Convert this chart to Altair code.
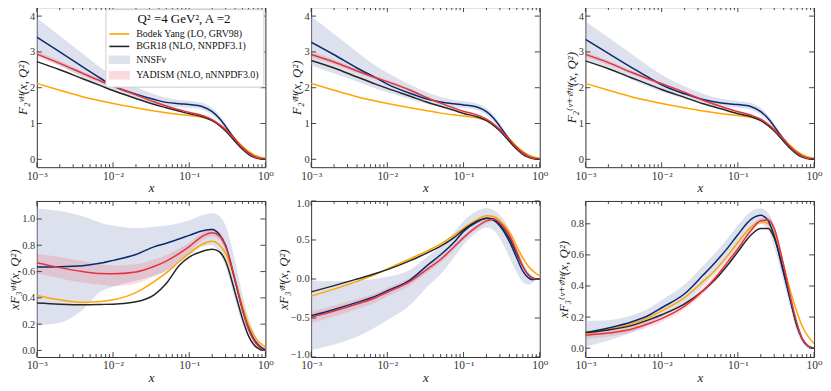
import altair as alt
import pandas as pd

FONT = "Liberation Serif, DejaVu Serif, serif"
ORANGE = "#ffa500"
BLACK = "#262626"
NAVY = "#0b2a6e"
RED = "#e2343f"
NN_BAND = "#b3bdd6"
YD_BAND = "#e8394a"
NN_SWATCH = "#dde3ed"
YD_SWATCH = "#fadadd"

X = [0.001, 0.002, 0.004, 0.007, 0.01, 0.02, 0.035, 0.05, 0.075, 0.1, 0.15,
     0.2, 0.25, 0.3, 0.4, 0.5, 0.6, 0.7, 0.8, 0.9, 1.0]

# ---- F2 nu ----
F2NU_BY = [2.12, 1.93, 1.75, 1.63, 1.56, 1.44, 1.35, 1.30, 1.25, 1.22, 1.17, 1.09, 0.97, 0.84, 0.57, 0.36, 0.22, 0.13, 0.08, 0.05, 0.03]
F2NU_BGR = [2.73, 2.50, 2.25, 2.05, 1.92, 1.70, 1.53, 1.44, 1.34, 1.27, 1.19, 1.08, 0.94, 0.79, 0.50, 0.28, 0.14, 0.06, 0.02, 0.005, 0.0]
F2NU_NN = [3.41, 3.00, 2.58, 2.25, 2.05, 1.82, 1.67, 1.59, 1.55, 1.53, 1.47, 1.33, 1.14, 0.92, 0.55, 0.32, 0.18, 0.09, 0.04, 0.015, 0.005]
F2NU_NN_LO = [2.92, 2.62, 2.28, 2.03, 1.90, 1.70, 1.55, 1.49, 1.46, 1.44, 1.38, 1.24, 1.05, 0.84, 0.48, 0.27, 0.14, 0.06, 0.02, 0.0, -0.01]
F2NU_NN_HI = [3.95, 3.45, 2.95, 2.55, 2.32, 2.02, 1.82, 1.72, 1.65, 1.63, 1.57, 1.43, 1.23, 1.00, 0.62, 0.37, 0.22, 0.12, 0.06, 0.03, 0.02]
F2NU_YD = [2.94, 2.68, 2.40, 2.18, 2.05, 1.80, 1.60, 1.49, 1.38, 1.31, 1.22, 1.11, 0.97, 0.83, 0.55, 0.32, 0.17, 0.08, 0.035, 0.012, 0.003]
F2NU_YD_LO = [2.86, 2.61, 2.34, 2.13, 2.00, 1.76, 1.57, 1.46, 1.35, 1.28, 1.19, 1.08, 0.94, 0.80, 0.53, 0.30, 0.16, 0.07, 0.03, 0.008, 0.0]
F2NU_YD_HI = [3.02, 2.75, 2.46, 2.23, 2.10, 1.84, 1.63, 1.52, 1.41, 1.34, 1.25, 1.14, 1.00, 0.86, 0.57, 0.34, 0.18, 0.09, 0.04, 0.016, 0.006]

# ---- F2 nubar ----
F2NB_BY = [2.12, 1.93, 1.75, 1.63, 1.56, 1.44, 1.35, 1.29, 1.24, 1.21, 1.16, 1.08, 0.97, 0.84, 0.57, 0.36, 0.22, 0.13, 0.08, 0.05, 0.03]
F2NB_BGR = [2.76, 2.55, 2.30, 2.10, 1.98, 1.76, 1.58, 1.48, 1.37, 1.28, 1.19, 1.08, 0.94, 0.79, 0.50, 0.28, 0.14, 0.06, 0.02, 0.005, 0.0]
F2NB_NN = [3.27, 2.92, 2.55, 2.28, 2.10, 1.84, 1.67, 1.60, 1.55, 1.52, 1.46, 1.33, 1.14, 0.92, 0.55, 0.32, 0.18, 0.09, 0.04, 0.015, 0.005]
F2NB_NN_LO = [2.62, 2.40, 2.17, 1.98, 1.87, 1.68, 1.54, 1.48, 1.45, 1.43, 1.37, 1.24, 1.05, 0.84, 0.48, 0.27, 0.14, 0.06, 0.02, 0.0, -0.01]
F2NB_NN_HI = [4.00, 3.50, 3.00, 2.62, 2.42, 2.08, 1.85, 1.74, 1.66, 1.62, 1.56, 1.43, 1.23, 1.00, 0.62, 0.37, 0.22, 0.12, 0.06, 0.03, 0.02]
F2NB_YD = [2.93, 2.72, 2.47, 2.28, 2.17, 1.93, 1.70, 1.57, 1.43, 1.34, 1.24, 1.12, 0.98, 0.83, 0.55, 0.32, 0.17, 0.08, 0.035, 0.012, 0.003]
F2NB_YD_LO = [2.85, 2.65, 2.41, 2.23, 2.12, 1.89, 1.67, 1.54, 1.40, 1.31, 1.21, 1.09, 0.95, 0.80, 0.53, 0.30, 0.16, 0.07, 0.03, 0.008, 0.0]
F2NB_YD_HI = [3.01, 2.79, 2.53, 2.33, 2.22, 1.97, 1.73, 1.60, 1.46, 1.37, 1.27, 1.15, 1.01, 0.86, 0.57, 0.34, 0.18, 0.09, 0.04, 0.016, 0.006]

# ---- F2 nu + nubar ----
F2S_BY = [2.12, 1.93, 1.75, 1.63, 1.56, 1.44, 1.35, 1.30, 1.25, 1.22, 1.17, 1.09, 0.97, 0.84, 0.57, 0.36, 0.22, 0.13, 0.08, 0.05, 0.03]
F2S_BGR = [2.75, 2.53, 2.28, 2.08, 1.95, 1.73, 1.55, 1.46, 1.35, 1.27, 1.19, 1.08, 0.94, 0.79, 0.50, 0.28, 0.14, 0.06, 0.02, 0.005, 0.0]
F2S_NN = [3.35, 2.96, 2.57, 2.27, 2.08, 1.83, 1.67, 1.60, 1.55, 1.53, 1.47, 1.33, 1.14, 0.92, 0.55, 0.32, 0.18, 0.09, 0.04, 0.015, 0.005]
F2S_NN_LO = [2.78, 2.52, 2.23, 2.01, 1.89, 1.69, 1.55, 1.49, 1.46, 1.44, 1.38, 1.24, 1.05, 0.84, 0.48, 0.27, 0.14, 0.06, 0.02, 0.0, -0.01]
F2S_NN_HI = [3.85, 3.40, 2.95, 2.58, 2.36, 2.04, 1.83, 1.73, 1.66, 1.63, 1.57, 1.43, 1.23, 1.00, 0.62, 0.37, 0.22, 0.12, 0.06, 0.03, 0.02]
F2S_YD = [2.93, 2.70, 2.43, 2.23, 2.11, 1.87, 1.65, 1.53, 1.41, 1.33, 1.23, 1.12, 0.98, 0.83, 0.55, 0.32, 0.17, 0.08, 0.035, 0.012, 0.003]
F2S_YD_LO = [2.86, 2.64, 2.38, 2.18, 2.07, 1.84, 1.62, 1.50, 1.38, 1.30, 1.20, 1.09, 0.95, 0.80, 0.53, 0.30, 0.16, 0.07, 0.03, 0.008, 0.0]
F2S_YD_HI = [3.00, 2.76, 2.48, 2.28, 2.15, 1.90, 1.68, 1.56, 1.44, 1.36, 1.26, 1.15, 1.01, 0.86, 0.57, 0.34, 0.18, 0.09, 0.04, 0.016, 0.006]

# ---- xF3 nu ----
XF3NU_BY = [0.418, 0.385, 0.366, 0.372, 0.385, 0.44, 0.525, 0.59, 0.68, 0.74, 0.81, 0.83, 0.80, 0.74, 0.53, 0.34, 0.20, 0.12, 0.07, 0.045, 0.025]
XF3NU_BGR = [0.36, 0.352, 0.348, 0.35, 0.352, 0.37, 0.425, 0.51, 0.65, 0.71, 0.755, 0.77, 0.75, 0.68, 0.44, 0.24, 0.11, 0.045, 0.015, 0.005, 0.0]
XF3NU_NN = [0.635, 0.637, 0.645, 0.665, 0.685, 0.73, 0.79, 0.815, 0.85, 0.875, 0.91, 0.92, 0.88, 0.80, 0.53, 0.31, 0.17, 0.09, 0.045, 0.02, 0.005]
XF3NU_NN_LO = [0.19, 0.21, 0.31, 0.45, 0.485, 0.53, 0.57, 0.60, 0.67, 0.72, 0.79, 0.80, 0.74, 0.64, 0.38, 0.20, 0.10, 0.04, 0.01, 0.0, -0.005]
XF3NU_NN_HI = [1.08, 1.06, 1.02, 0.97, 0.95, 0.93, 0.94, 0.95, 0.97, 0.99, 1.03, 1.045, 1.02, 0.95, 0.68, 0.42, 0.25, 0.14, 0.07, 0.035, 0.015]
XF3NU_YD = [0.667, 0.63, 0.60, 0.585, 0.583, 0.597, 0.64, 0.68, 0.74, 0.79, 0.87, 0.895, 0.87, 0.79, 0.54, 0.31, 0.16, 0.08, 0.035, 0.01, 0.0]
XF3NU_YD_LO = [0.585, 0.55, 0.515, 0.50, 0.49, 0.51, 0.565, 0.61, 0.69, 0.75, 0.84, 0.865, 0.84, 0.76, 0.52, 0.29, 0.145, 0.07, 0.03, 0.005, -0.005]
XF3NU_YD_HI = [0.735, 0.71, 0.68, 0.655, 0.646, 0.655, 0.695, 0.725, 0.78, 0.82, 0.90, 0.93, 0.90, 0.82, 0.56, 0.33, 0.175, 0.09, 0.04, 0.015, 0.005]

# ---- xF3 nubar ----
XF3NB_BY = [-0.22, -0.13, -0.03, 0.06, 0.13, 0.26, 0.37, 0.45, 0.56, 0.65, 0.76, 0.81, 0.80, 0.75, 0.60, 0.42, 0.27, 0.17, 0.11, 0.07, 0.04]
XF3NB_BGR = [-0.165, -0.085, 0.0, 0.07, 0.12, 0.235, 0.345, 0.42, 0.53, 0.63, 0.74, 0.78, 0.77, 0.70, 0.52, 0.32, 0.16, 0.06, 0.015, 0.0, 0.0]
XF3NB_NN = [-0.47, -0.39, -0.30, -0.22, -0.15, -0.01, 0.19, 0.31, 0.47, 0.61, 0.73, 0.78, 0.75, 0.68, 0.48, 0.27, 0.10, 0.02, -0.01, 0.0, 0.0]
XF3NB_NN_LO = [-0.91, -0.84, -0.74, -0.62, -0.53, -0.33, -0.08, 0.06, 0.28, 0.44, 0.60, 0.66, 0.62, 0.52, 0.28, 0.08, -0.04, -0.07, -0.05, -0.02, -0.005]
XF3NB_NN_HI = [-0.02, -0.03, -0.02, 0.0, 0.03, 0.12, 0.30, 0.42, 0.60, 0.74, 0.87, 0.91, 0.88, 0.82, 0.64, 0.44, 0.24, 0.10, 0.04, 0.015, 0.005]
XF3NB_YD = [-0.49, -0.41, -0.32, -0.24, -0.17, -0.03, 0.14, 0.25, 0.41, 0.53, 0.67, 0.745, 0.765, 0.72, 0.56, 0.35, 0.16, 0.06, 0.015, 0.0, 0.0]
XF3NB_YD_LO = [-0.56, -0.48, -0.385, -0.30, -0.225, -0.08, 0.095, 0.21, 0.375, 0.50, 0.64, 0.715, 0.735, 0.69, 0.535, 0.33, 0.145, 0.05, 0.005, -0.005, -0.005]
XF3NB_YD_HI = [-0.42, -0.34, -0.255, -0.18, -0.115, 0.02, 0.185, 0.29, 0.445, 0.56, 0.70, 0.775, 0.795, 0.75, 0.585, 0.37, 0.175, 0.07, 0.025, 0.005, 0.005]

# ---- xF3 nu + nubar ----
XF3S_BY = [0.09, 0.12, 0.155, 0.2, 0.24, 0.325, 0.43, 0.5, 0.6, 0.68, 0.78, 0.815, 0.80, 0.74, 0.53, 0.35, 0.23, 0.14, 0.09, 0.055, 0.03]
XF3S_BGR = [0.10, 0.117, 0.145, 0.185, 0.215, 0.285, 0.37, 0.44, 0.54, 0.62, 0.73, 0.77, 0.77, 0.71, 0.49, 0.29, 0.14, 0.06, 0.02, 0.005, 0.0]
XF3S_NN = [0.10, 0.13, 0.168, 0.215, 0.26, 0.35, 0.47, 0.55, 0.65, 0.73, 0.83, 0.855, 0.82, 0.72, 0.48, 0.29, 0.14, 0.06, 0.02, 0.005, 0.0]
XF3S_NN_LO = [0.01, 0.05, 0.10, 0.155, 0.20, 0.29, 0.40, 0.48, 0.58, 0.66, 0.77, 0.80, 0.76, 0.65, 0.42, 0.24, 0.10, 0.035, 0.005, -0.005, -0.01]
XF3S_NN_HI = [0.175, 0.18, 0.21, 0.26, 0.31, 0.41, 0.53, 0.61, 0.71, 0.79, 0.88, 0.90, 0.87, 0.79, 0.55, 0.34, 0.18, 0.08, 0.035, 0.015, 0.01]
XF3S_YD = [0.083, 0.097, 0.122, 0.16, 0.19, 0.27, 0.37, 0.45, 0.56, 0.64, 0.76, 0.82, 0.825, 0.77, 0.53, 0.31, 0.155, 0.06, 0.02, 0.005, 0.0]
XF3S_YD_LO = [0.06, 0.075, 0.10, 0.138, 0.168, 0.248, 0.348, 0.428, 0.54, 0.62, 0.74, 0.80, 0.805, 0.75, 0.51, 0.295, 0.145, 0.055, 0.015, 0.0, -0.005]
XF3S_YD_HI = [0.106, 0.119, 0.144, 0.182, 0.212, 0.292, 0.392, 0.472, 0.58, 0.66, 0.78, 0.84, 0.845, 0.79, 0.55, 0.325, 0.165, 0.065, 0.025, 0.01, 0.005]

LEGEND_LABELS = ["Bodek Yang (LO, GRV98)", "BGR18 (NLO, NNPDF3.1)", "NNSFν", "YADISM (NLO, nNNPDF3.0)"]
LEGEND_TITLE = "Q² =4 GeV²,  A =2"

XT_MAJOR = [0.001, 0.01, 0.1, 1.0]
XT_MINOR = [0.002, 0.003, 0.004, 0.005, 0.006, 0.007, 0.008, 0.009,
            0.02, 0.03, 0.04, 0.05, 0.06, 0.07, 0.08, 0.09,
            0.2, 0.3, 0.4, 0.5, 0.6, 0.7, 0.8, 0.9]

PANELS = [
    dict(title="F₂ᵛᴴ(x, Q²)", dom=[-0.22, 4.25], yt=[0, 1, 2, 3, 4], fmt="d", flush=False,
         by=F2NU_BY, bgr=F2NU_BGR, nn=F2NU_NN, nn_lo=F2NU_NN_LO, nn_hi=F2NU_NN_HI,
         yd=F2NU_YD, yd_lo=F2NU_YD_LO, yd_hi=F2NU_YD_HI),
    dict(title="F₂ᵛ̄ᴴ(x, Q²)", dom=[-0.22, 4.25], yt=[0, 1, 2, 3, 4], fmt="d", flush=False,
         by=F2NB_BY, bgr=F2NB_BGR, nn=F2NB_NN, nn_lo=F2NB_NN_LO, nn_hi=F2NB_NN_HI,
         yd=F2NB_YD, yd_lo=F2NB_YD_LO, yd_hi=F2NB_YD_HI),
    dict(title="F₂⁽ᵛ⁺ᵛ̄⁾ᴴ(x, Q²)", dom=[-0.22, 4.25], yt=[0, 1, 2, 3, 4], fmt="d", flush=False,
         by=F2S_BY, bgr=F2S_BGR, nn=F2S_NN, nn_lo=F2S_NN_LO, nn_hi=F2S_NN_HI,
         yd=F2S_YD, yd_lo=F2S_YD_LO, yd_hi=F2S_YD_HI),
    dict(title="xF₃ᵛᴴ(x, Q²)", dom=[-0.05, 1.137], yt=[0, 0.2, 0.4, 0.6, 0.8, 1.0], fmt=".1f", flush=False,
         by=XF3NU_BY, bgr=XF3NU_BGR, nn=XF3NU_NN, nn_lo=XF3NU_NN_LO, nn_hi=XF3NU_NN_HI,
         yd=XF3NU_YD, yd_lo=XF3NU_YD_LO, yd_hi=XF3NU_YD_HI),
    dict(title="xF₃ᵛ̄ᴴ(x, Q²)", dom=[-1.0, 1.0], yt=[-1.0, -0.5, 0.0, 0.5, 1.0], fmt=".1f", flush=True,
         by=XF3NB_BY, bgr=XF3NB_BGR, nn=XF3NB_NN, nn_lo=XF3NB_NN_LO, nn_hi=XF3NB_NN_HI,
         yd=XF3NB_YD, yd_lo=XF3NB_YD_LO, yd_hi=XF3NB_YD_HI),
    dict(title="xF₃⁽ᵛ⁺ᵛ̄⁾ᴴ(x, Q²)", dom=[-0.057, 0.947], yt=[0, 0.2, 0.4, 0.6, 0.8], fmt=".1f", flush=False,
         by=XF3S_BY, bgr=XF3S_BGR, nn=XF3S_NN, nn_lo=XF3S_NN_LO, nn_hi=XF3S_NN_HI,
         yd=XF3S_YD, yd_lo=XF3S_YD_LO, yd_hi=XF3S_YD_HI),
]

W = 230
HEIGHTS = [161, 161, 161, 157, 157, 157]
LABEL_EXPR = ("datum.value < 0.005 ? '10⁻³' : datum.value < 0.05 ? '10⁻²' : "
              "datum.value < 0.5 ? '10⁻¹' : '10⁰'")


def make_panel(p, h, with_legend=False):
    df = pd.DataFrame({"x": X, "by": p["by"], "bgr": p["bgr"], "nn": p["nn"],
                       "nn_lo": p["nn_lo"], "nn_hi": p["nn_hi"], "yd": p["yd"],
                       "yd_lo": p["yd_lo"], "yd_hi": p["yd_hi"]})
    xs = alt.Scale(type="log", domain=[0.001, 1.0], nice=False)
    ys = alt.Scale(domain=p["dom"], nice=False, zero=False)
    xax = alt.Axis(values=XT_MAJOR, labelExpr=LABEL_EXPR, ticks=False, domain=False,
                   grid=False, labelFlush=False, labelFont=FONT, labelFontSize=11.5,
                   labelColor="#333", labelPadding=3, titleFont=FONT, titleFontSize=13,
                   titleFontStyle="italic", titleFontWeight="normal",
                   titleColor="#222", titlePadding=0)
    yax = alt.Axis(values=p["yt"], format=p["fmt"], ticks=False, domain=False,
                   grid=False, labelFont=FONT, labelFontSize=10.5, labelColor="#333",
                   labelPadding=2, labelFlush=p["flush"], labelFlushOffset=2,
                   titleFont=FONT, titleFontSize=13,
                   titleFontStyle="italic", titleFontWeight="normal",
                   titleColor="#222", titlePadding=0)

    def xenc(field):
        return alt.X(field, type="quantitative", scale=xs, axis=xax, title="x")

    def yenc(field):
        return alt.Y(field, type="quantitative", scale=ys, axis=yax, title=p["title"])

    base = alt.Chart(df)
    layers = [
        base.mark_area(color=NN_BAND, opacity=0.45, interpolate="monotone", clip=True)
        .encode(x=xenc("x"), y=yenc("nn_lo"), y2="nn_hi"),
        base.mark_area(color=YD_BAND, opacity=0.17, interpolate="monotone", clip=True)
        .encode(x=xenc("x"), y=yenc("yd_lo"), y2="yd_hi"),
    ]
    for col, colr in [("by", ORANGE), ("bgr", BLACK), ("nn", NAVY), ("yd", RED)]:
        layers.append(
            base.mark_line(color=colr, strokeWidth=1.5, interpolate="monotone", clip=True)
            .encode(x=xenc("x"), y=yenc(col))
        )

    # inward ticks on all four sides
    tmaj = alt.Chart(pd.DataFrame({"t": XT_MAJOR}))
    tmin = alt.Chart(pd.DataFrame({"t": XT_MINOR}))
    ty = alt.Chart(pd.DataFrame({"t": p["yt"]}))
    tick_style = dict(color="#333", strokeWidth=0.9)
    layers += [
        tmaj.mark_rule(**tick_style).encode(x=xenc("t"), y=alt.value(0), y2=alt.value(5)),
        tmaj.mark_rule(**tick_style).encode(x=xenc("t"), y=alt.value(h), y2=alt.value(h - 5)),
        tmin.mark_rule(**tick_style).encode(x=xenc("t"), y=alt.value(0), y2=alt.value(3)),
        tmin.mark_rule(**tick_style).encode(x=xenc("t"), y=alt.value(h), y2=alt.value(h - 3)),
        ty.mark_rule(**tick_style).encode(y=yenc("t"), x=alt.value(0), x2=alt.value(5)),
        ty.mark_rule(**tick_style).encode(y=yenc("t"), x=alt.value(W), x2=alt.value(W - 5)),
    ]

    if with_legend:
        leg = alt.Legend(title=LEGEND_TITLE, orient="top-right", offset=2,
                         fillColor="white", strokeColor="#cccccc", cornerRadius=3,
                         padding=4, titleFont=FONT, titleFontSize=13,
                         titleFontWeight="normal", titleColor="#111",
                         titleAnchor="middle", titlePadding=2,
                         labelFont=FONT, labelFontSize=10, labelColor="#111",
                         symbolSize=100, symbolStrokeWidth=1.6, symbolOffset=4,
                         rowPadding=1.5, labelOffset=11)
        ldf = pd.DataFrame({"s": LEGEND_LABELS})
        line_path = "M-2,0L2,0"
        rect_path = "M-2,-0.7L2,-0.7L2,0.7L-2,0.7Z"
        layers.append(
            alt.Chart(ldf).mark_point(filled=False, opacity=1)
            .encode(
                color=alt.Color("s:N", scale=alt.Scale(domain=LEGEND_LABELS,
                                range=[ORANGE, BLACK, NN_SWATCH, YD_SWATCH]), legend=leg),
                fill=alt.Fill("s:N", scale=alt.Scale(domain=LEGEND_LABELS,
                              range=["transparent", "transparent", NN_SWATCH, YD_SWATCH]), legend=leg),
                shape=alt.Shape("s:N", scale=alt.Scale(domain=LEGEND_LABELS,
                                range=[line_path, line_path, rect_path, rect_path]), legend=leg),
            )
            .transform_filter("false")
        )

    return alt.layer(*layers).properties(width=W, height=h)


panels = [make_panel(p, h, with_legend=(i == 0)) for i, (p, h) in enumerate(zip(PANELS, HEIGHTS))]

chart = (
    alt.concat(*panels, columns=3, spacing={"row": 34, "column": 46}, bounds="flush")
    .resolve_scale(color="independent", fill="independent", shape="independent")
    .resolve_legend(color="independent", fill="independent", shape="independent")
    .configure_view(stroke="#333", strokeWidth=1)
    .properties(padding={"left": 0, "top": -3, "right": 0, "bottom": -2}, background="white")
)

chart.save("out.html", embed_options={"renderer": "svg", "actions": False})
